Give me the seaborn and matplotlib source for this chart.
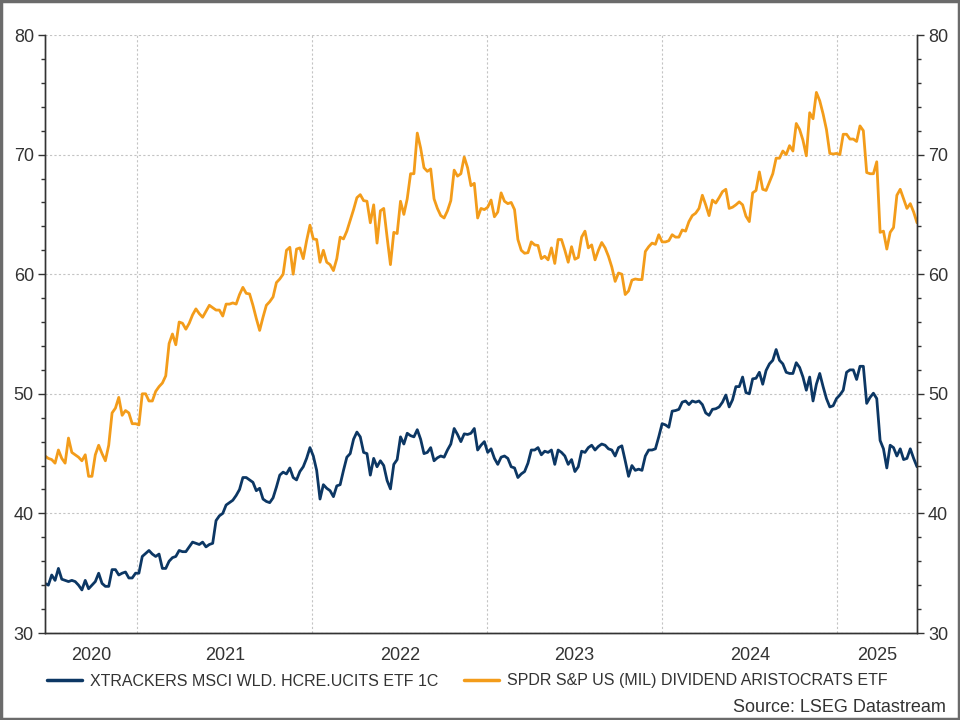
import numpy as np
import pandas as pd
import matplotlib
matplotlib.use("Agg")
import matplotlib.pyplot as plt
import matplotlib.dates as mdates
from matplotlib.patches import Rectangle
import seaborn as sns

# weekly closes
start_date = "2020-06-22"
name_blue = "XTRACKERS MSCI WLD. HCRE.UCITS ETF 1C"
name_orange = "SPDR S&P US (MIL) DIVIDEND ARISTOCRATS ETF"

blue = [
    34.15, 34.0, 34.85, 34.4, 35.4, 34.5, 34.4, 34.3, 34.4, 34.3,
    34.0, 33.6, 34.4, 33.7, 34.0, 34.3, 35.0, 34.15, 33.9, 33.9,
    35.3, 35.3, 34.85, 35.0, 35.1, 34.6, 34.6, 35.0, 35.0, 36.4,
    36.65, 36.9, 36.6, 36.4, 36.6, 35.4, 35.4, 36.0, 36.3, 36.4,
    36.9, 36.8, 36.8, 37.2, 37.6, 37.5, 37.4, 37.6, 37.2, 37.4,
    37.5, 39.4, 39.8, 40.0, 40.7, 40.9, 41.1, 41.5, 42.0, 43.0,
    43.0, 42.8, 42.6, 41.9, 42.1, 41.2, 41.0, 40.9, 41.3, 42.2,
    43.2, 43.45, 43.3, 43.8, 43.0, 42.8, 43.5, 43.9, 44.6, 45.5,
    44.8, 43.6, 41.2, 42.4, 42.1, 41.9, 41.4, 42.3, 42.4, 43.6,
    44.7, 45.0, 46.2, 46.8, 46.4, 45.1, 45.0, 43.2, 44.6, 43.9,
    44.4, 44.0, 42.75, 42.05, 44.1, 44.5, 46.4, 45.8, 46.7, 46.5,
    46.4, 47.0, 46.2, 45.0, 45.1, 45.5, 44.4, 44.65, 44.8, 44.7,
    45.3, 45.8, 47.1, 46.6, 46.0, 46.65, 46.6, 46.7, 47.1, 45.3,
    45.7, 46.0, 45.1, 45.4, 44.6, 44.1, 44.7, 44.8, 44.6, 43.9,
    43.8, 43.0, 43.3, 43.5, 44.2, 45.3, 45.3, 45.5, 44.9, 45.2,
    45.1, 45.3, 44.1, 45.3, 45.1, 44.8, 44.1, 44.5, 43.5, 43.9,
    45.2, 45.1, 45.5, 45.7, 45.3, 45.6, 45.8, 45.7, 45.4, 45.3,
    44.8, 45.5, 45.65, 44.4, 43.1, 44.0, 43.6, 43.7, 43.6, 44.8,
    45.3, 45.3, 45.4, 46.4, 47.5, 47.4, 47.2, 48.55, 48.6, 48.7,
    49.3, 49.4, 49.1, 49.4, 49.3, 49.4, 49.1, 48.4, 48.2, 48.7,
    48.75, 48.9, 49.3, 49.9, 48.9, 49.5, 50.6, 50.6, 51.4, 50.1,
    50.0, 51.25, 51.3, 51.8, 50.8, 51.95, 52.5, 52.8, 53.7, 52.8,
    52.5, 51.8, 51.7, 51.7, 52.6, 52.2, 51.4, 50.3, 51.4, 49.4,
    50.8, 51.7, 50.6, 49.6, 48.9, 49.0, 49.6, 49.9, 50.3, 51.8,
    52.0, 52.0, 51.2, 52.3, 52.3, 49.2, 49.7, 50.05, 49.6, 46.1,
    45.4, 43.8, 45.7, 45.5, 44.8, 45.4, 44.5, 44.6, 45.4, 44.6,
    43.9,
]

orange = [
    44.8, 44.6, 44.5, 44.2, 45.3, 44.6, 44.2, 46.3, 45.1, 44.9,
    44.7, 44.4, 44.9, 43.1, 43.1, 44.9, 45.7, 45.0, 44.4, 45.7,
    48.4, 48.8, 49.7, 48.2, 48.6, 48.4, 47.5, 47.5, 47.4, 50.0,
    50.0, 49.4, 49.4, 50.2, 50.6, 50.9, 51.5, 54.2, 55.0, 54.1,
    56.0, 55.9, 55.4, 55.9, 56.6, 57.1, 56.7, 56.4, 56.9, 57.4,
    57.2, 57.0, 57.0, 56.5, 57.5, 57.5, 57.6, 57.5, 58.3, 58.9,
    58.4, 58.35, 57.4, 56.3, 55.3, 56.4, 57.4, 57.7, 58.1, 59.3,
    59.6, 60.0, 62.0, 62.25, 60.0, 62.1, 62.2, 61.3, 62.8, 64.1,
    62.95, 62.9, 61.0, 62.0, 61.0, 60.8, 60.3, 61.3, 63.1, 62.95,
    63.6, 64.5, 65.4, 66.4, 66.65, 66.15, 66.1, 64.3, 65.8, 62.6,
    65.3, 65.5, 63.1, 60.8, 63.5, 63.4, 66.1, 65.0, 66.3, 68.4,
    68.4, 71.8, 70.55, 68.9, 68.6, 68.8, 66.3, 65.5, 64.9, 64.7,
    65.3, 66.15, 68.7, 68.2, 68.4, 69.8, 68.9, 67.4, 67.6, 64.7,
    65.5, 65.4, 65.6, 66.2, 64.8, 65.2, 66.8, 66.1, 65.9, 66.0,
    65.4, 62.9, 62.0, 61.75, 61.8, 62.7, 62.45, 62.4, 61.3, 61.5,
    61.2, 62.2, 60.9, 62.9, 62.9, 62.0, 61.0, 62.3, 61.25, 61.4,
    63.1, 63.6, 62.2, 62.45, 61.2, 62.0, 62.65, 62.2, 61.5, 60.6,
    59.4, 60.1, 60.0, 58.3, 58.6, 59.5, 59.6, 59.55, 59.55, 61.9,
    62.3, 62.6, 62.5, 63.3, 62.7, 62.7, 62.8, 63.3, 63.1, 63.1,
    63.7, 63.6, 64.4, 64.9, 65.1, 65.5, 66.6, 65.8, 64.9, 66.2,
    65.95, 66.4, 66.9, 67.1, 65.5, 65.6, 65.8, 66.05, 65.8, 64.85,
    64.4, 66.8, 67.0, 68.55, 67.1, 67.0, 67.7, 68.4, 69.7, 69.7,
    70.3, 70.0, 70.75, 70.3, 72.6, 72.1, 71.2, 69.9, 73.5, 73.0,
    75.2, 74.5, 73.4, 72.1, 70.1, 70.05, 70.1, 70.0, 71.7, 71.7,
    71.3, 71.3, 71.1, 72.4, 72.0, 68.5, 68.4, 68.4, 69.4, 63.5,
    63.6, 62.1, 63.5, 63.9, 66.6, 67.1, 66.3, 65.5, 65.9, 65.2,
    64.3,
]

years = [2020, 2021, 2022, 2023, 2024, 2025]

dates = pd.date_range(start_date, periods=len(blue), freq="7D")
df = pd.DataFrame({"date": np.concatenate([dates, dates]),
                   "value": blue + orange,
                   "series": [name_blue] * len(blue) + [name_orange] * len(orange)})

sns.set_style("white")
plt.rcParams["font.family"] = ["Liberation Sans", "DejaVu Sans"]
ink = "#333333"

fig = plt.figure(figsize=(9.6, 7.2), dpi=100)
ax = fig.add_axes([45 / 960, 1 - 633 / 720, (917 - 45) / 960, (633 - 35) / 720])

sns.lineplot(data=df, x="date", y="value", hue="series", ax=ax,
             palette={name_blue: "#0c3764", name_orange: "#f39c1a"},
             linewidth=2.0)

ax.set_xlim(dates[0], dates[-1])
ax.set_ylim(30, 80)
ax.set_xlabel("")
ax.set_ylabel("")

# y axis ticks (left + right)
ax.set_yticks([30, 40, 50, 60, 70, 80])
ax.set_yticks(np.arange(30, 81, 2), minor=True)
ax.tick_params(axis="y", which="major", direction="out", length=5, width=1,
               color=ink, labelsize=13, labelcolor=ink, pad=3)
ax.tick_params(axis="y", which="minor", direction="out", length=3, width=1, color=ink)

ax2 = ax.twinx()
ax2.set_ylim(30, 80)
ax2.set_yticks([30, 40, 50, 60, 70, 80])
ax2.set_yticks(np.arange(30, 81, 2), minor=True)
ax2.tick_params(axis="y", which="major", direction="out", length=5, width=1,
                color=ink, labelsize=13, labelcolor=ink, pad=3)
ax2.tick_params(axis="y", which="minor", direction="out", length=3, width=1, color=ink)

# x axis: year boundaries as major ticks, quarters as minor
ax.xaxis.set_major_locator(mdates.YearLocator())
ax.xaxis.set_minor_locator(mdates.MonthLocator(bymonth=[1, 4, 7, 10]))
ax.xaxis.set_major_formatter(plt.NullFormatter())
ax.tick_params(axis="x", which="major", direction="out", length=7, width=1, color=ink)
ax.tick_params(axis="x", which="minor", direction="out", length=3, width=1, color=ink)

ax.grid(True, which="major", axis="both", color="#c4c4c4", linestyle=(0, (2, 2)), linewidth=0.8)
ax.set_axisbelow(True)

for a in (ax, ax2):
    a.spines["top"].set_visible(False)
    for s in ("left", "right", "bottom"):
        a.spines[s].set_color(ink)
        a.spines[s].set_linewidth(1.0)

# year labels centred on the visible part of each year
for y in years:
    lo = max(pd.Timestamp(f"{y}-01-01"), dates[0])
    hi = min(pd.Timestamp(f"{y + 1}-01-01"), dates[-1])
    mid = lo + (hi - lo) / 2
    ax.text(mdates.date2num(mid), -0.037, str(y), transform=ax.get_xaxis_transform(),
            ha="center", va="center", fontsize=13, color=ink)

handles, labels = ax.get_legend_handles_labels()
ax.get_legend().remove()
for h in handles:
    h.set_linewidth(2.5)
fig.legend(handles, labels, loc="center", bbox_to_anchor=(0.487, 1 - 681 / 720),
           ncol=2, frameon=False, fontsize=11.5, handlelength=2.2,
           columnspacing=1.6, handletextpad=0.5, labelcolor=ink)

fig.text(946 / 960, 1 - 707 / 720, "Source: LSEG Datastream", ha="right", va="center",
         fontsize=13, color=ink)

fig.patches.append(Rectangle((0.0015, 0.002), 0.997, 0.996, transform=fig.transFigure,
                             fill=False, edgecolor="#6b6b6b", linewidth=2.5))

fig.savefig("out.png", dpi=100)
